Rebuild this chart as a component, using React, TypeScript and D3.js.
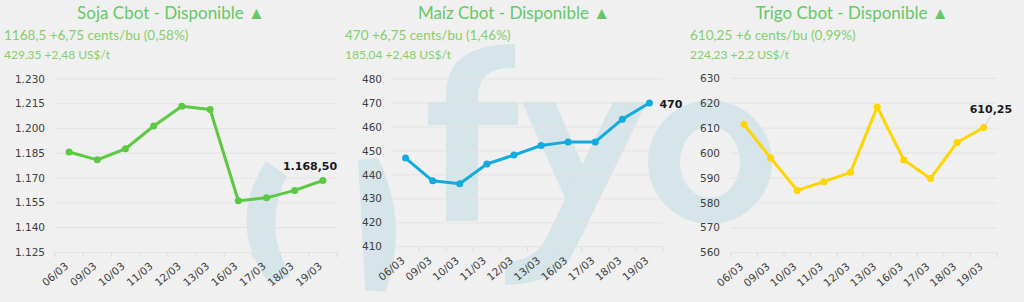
import React from "react";
import * as d3 from "d3";

const dates = ["06/03", "09/03", "10/03", "11/03", "12/03", "13/03", "16/03", "17/03", "18/03", "19/03"];

const sojaValues = [1185.75, 1181, 1187.75, 1201.5, 1213.5, 1211.5, 1156.25, 1158, 1162.5, 1168.5];
const maizValues = [447, 437.5, 436.25, 444.5, 448.25, 452.25, 453.75, 453.75, 463.25, 470];
const trigoValues = [611.5, 598, 585, 588.5, 592.25, 618.5, 597.25, 589.75, 604.25, 610.25];

const sojaTicks = [1125, 1140, 1155, 1170, 1185, 1200, 1215, 1230];
const maizTicks = [410, 420, 430, 440, 450, 460, 470, 480];
const trigoTicks = [560, 570, 580, 590, 600, 610, 620, 630];

const titles = ["Soja Cbot - Disponible", "Maíz Cbot - Disponible", "Trigo Cbot - Disponible"];
const subtitles1 = ["1168,5 +6,75 cents/bu (0,58%)", "470 +6,75 cents/bu (1,46%)", "610,25 +6 cents/bu (0,99%)"];
const subtitles2 = ["429,35 +2,48 US$/t", "185,04 +2,48 US$/t", "224,23 +2,2 US$/t"];
const lastLabels = ["1.168,50", "470", "610,25"];

const fmtThousands = (v: number) => {
  const s = String(Math.round(v));
  return s.length > 3 ? s.slice(0, s.length - 3) + "." + s.slice(s.length - 3) : s;
};

const panels = [
  {
    values: sojaValues, ticks: sojaTicks, color: "#5cc843", fmt: fmtThousands,
    x0: 55, x1: 337, yTop: 79, yBot: 252.3, labelRight: 45, titleX: 171, subX: 4,
    last: { dx: -40, dy: -11, anchor: "start", leader: false },
  },
  {
    values: maizValues, ticks: maizTicks, color: "#12aadf", fmt: (v: number) => String(v),
    x0: 392, x1: 663, yTop: 79, yBot: 246.7, labelRight: 382, titleX: 514, subX: 345,
    last: { dx: 10, dy: 5, anchor: "start", leader: false },
  },
  {
    values: trigoValues, ticks: trigoTicks, color: "#ffd500", fmt: (v: number) => String(v),
    x0: 730.7, x1: 997, yTop: 78.3, yBot: 252.7, labelRight: 720, titleX: 852, subX: 690,
    last: { dx: -14, dy: -15, anchor: "start", leader: true },
  },
];

const WM = "#d5e5ea";
const axisFont = "'DejaVu Sans', Verdana, sans-serif";
const titleFont = "Lato, 'Open Sans', sans-serif";

function Watermark() {
  const ring = "M 648 162 A 62 62 0 1 0 772 162 A 62 62 0 1 0 648 162 Z M 680 162 A 30 36 0 1 1 740 162 A 30 36 0 1 1 680 162 Z";
  return (
    <g fill={WM}>
      <path d="M 266 161 L 287 176 Q 262 225 290 276 L 270 284 Q 225 225 266 161 Z" />
      <path d="M 358 160 L 378 158 Q 410 225 385 292 L 365 290 Q 362 225 358 160 Z" />
      <path d="M 446 221 L 446 92 Q 448 44 515 44 L 515 68 Q 478 66 478 97 L 478 221 Z" />
      <rect x={428} y={102} width={90} height={23} />
      <path d="M 522 102 L 555 102 L 598 200 L 582 236 Z" />
      <path d="M 613 102 L 647 102 L 572 255 Q 555 284 505 285 L 505 262 Q 535 260 545 240 Z" />
      <path d={ring} fillRule="evenodd" />
    </g>
  );
}

function Panel({ p, i }: { p: any; i: number }) {
  const x = d3.scaleBand<string>().domain(dates).range([p.x0, p.x1]);
  const y = d3.scaleLinear().domain([p.ticks[0], p.ticks[p.ticks.length - 1]]).range([p.yBot, p.yTop]);
  const cx = (d: string) => (x(d) as number) + x.bandwidth() / 2;
  const line = d3.line<number>().x((_, k) => cx(dates[k])).y((v) => y(v));
  const lastIdx = p.values.length - 1;
  const lx = cx(dates[lastIdx]);
  const ly = y(p.values[lastIdx]);
  return (
    <g>
      {p.ticks.map((t: number) => (
        <g key={t}>
          <line x1={p.x0} x2={p.x1} y1={y(t)} y2={y(t)} stroke="#e3e3e3" strokeWidth={1} />
          <text x={p.labelRight} y={y(t)} dy="0.35em" textAnchor="end" fontFamily={axisFont} fontSize={10.5} fill="#404040">
            {p.fmt(t)}
          </text>
        </g>
      ))}
      {dates.map((d) => (
        <line key={"t" + d} x1={x(d) as number} x2={x(d) as number} y1={p.yBot} y2={p.yBot + 5} stroke="#dcdcdc" />
      ))}
      <line x1={p.x1} x2={p.x1} y1={p.yBot} y2={p.yBot + 5} stroke="#dcdcdc" />
      {dates.map((d) => (
        <text key={"l" + d} transform={`translate(${cx(d)},${p.yBot + 15}) rotate(-40)`} textAnchor="end"
          fontFamily={axisFont} fontSize={10.5} fill="#404040">
          {d}
        </text>
      ))}
      <path d={line(p.values) as string} fill="none" stroke={p.color} strokeWidth={3} strokeLinejoin="round" />
      {p.values.map((v: number, k: number) => (
        <circle key={k} cx={cx(dates[k])} cy={y(v)} r={3.5} fill={p.color} />
      ))}
      {p.last.leader && (
        <line x1={lx + 7} y1={ly - 11} x2={lx + 1} y2={ly - 2} stroke="#c8c8c8" strokeWidth={1} />
      )}
      <text x={lx + p.last.dx} y={ly + p.last.dy} textAnchor={p.last.anchor} fontFamily={axisFont}
        fontWeight="bold" fontSize={11} fill="#1a1a1a">
        {lastLabels[i]}
      </text>
      <text x={p.titleX} y={19} textAnchor="middle" fontFamily={titleFont} fontWeight={400} fontSize={17} fill="#66c866">
        {titles[i]} ▲
      </text>
      <text x={p.subX} y={40} fontFamily={titleFont} fontWeight={400} fontSize={13.5} fill="#84cf6a">
        {subtitles1[i]}
      </text>
      <text x={p.subX} y={59} fontFamily={titleFont} fontWeight={400} fontSize={12} fill="#84cf6a">
        {subtitles2[i]}
      </text>
    </g>
  );
}

export default function App() {
  return (
    <svg width={1024} height={302} style={{ position: "absolute", left: 0, top: 0, background: "#f0f0f0" }}>
      <rect x={0} y={0} width={1024} height={302} fill="#f0f0f0" />
      <Watermark />
      {panels.map((p, i) => (
        <Panel key={i} p={p} i={i} />
      ))}
    </svg>
  );
}
